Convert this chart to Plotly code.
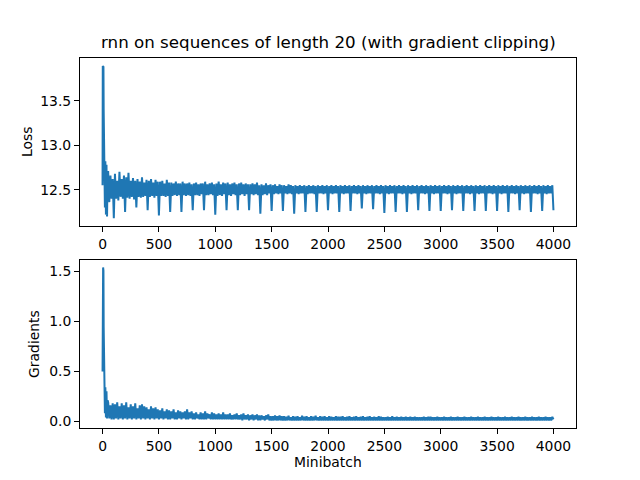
import plotly.graph_objects as go
from plotly.subplots import make_subplots

# ---- data ----
minibatch = [0, 2, 5, 8, 10, 12, 15, 18, 21, 25, 30, 35, 40, 45] + list(range(50, 4001, 10))

loss = [
    12.55, 13.89, 13.86, 13.88, 13.40, 13.05, 12.50, 12.95, 12.30, 12.82, 12.22, 12.78, 12.20, 12.70,
    12.70, 12.36, 12.66, 12.40, 12.62,
    12.18, 12.68, 12.40, 12.60, 12.38, 12.70, 12.42, 12.62, 12.40, 12.66,
    12.25, 12.64, 12.41, 12.69, 12.40, 12.60, 12.42, 12.63, 12.39, 12.60,
    12.30, 12.62, 12.42, 12.59, 12.41, 12.64, 12.42, 12.58, 12.43, 12.61,
    12.27, 12.60, 12.42, 12.62, 12.43, 12.58, 12.41, 12.61, 12.43, 12.59,
    12.21, 12.59, 12.43, 12.60, 12.43, 12.57, 12.42, 12.61, 12.43, 12.58,
    12.25, 12.58, 12.43, 12.57, 12.44, 12.59, 12.43, 12.57, 12.44, 12.57,
    12.25, 12.59, 12.44, 12.57, 12.43, 12.57, 12.44, 12.58, 12.43, 12.56,
    12.27, 12.57, 12.44, 12.58, 12.44, 12.56, 12.43, 12.57, 12.45, 12.57,
    12.27, 12.59, 12.44, 12.56, 12.44, 12.57, 12.45, 12.58, 12.44, 12.56,
    12.22, 12.57, 12.43, 12.59, 12.44, 12.56, 12.43, 12.58, 12.45, 12.57,
    12.27, 12.58, 12.44, 12.56, 12.43, 12.57, 12.45, 12.58, 12.44, 12.56,
    12.27, 12.57, 12.44, 12.58, 12.45, 12.56, 12.43, 12.57, 12.45, 12.56,
    12.27, 12.56, 12.45, 12.57, 12.44, 12.56, 12.45, 12.58, 12.44, 12.55,
    12.23, 12.56, 12.44, 12.55, 12.45, 12.57, 12.44, 12.55, 12.46, 12.56,
    12.26, 12.55, 12.45, 12.56, 12.46, 12.54, 12.45, 12.56, 12.46, 12.55,
    12.26, 12.55, 12.46, 12.54, 12.45, 12.56, 12.46, 12.55, 12.45, 12.54,
    12.23, 12.55, 12.46, 12.54, 12.45, 12.55, 12.46, 12.54, 12.46, 12.55,
    12.25, 12.54, 12.45, 12.55, 12.46, 12.54, 12.46, 12.55, 12.45, 12.54,
    12.25, 12.55, 12.46, 12.54, 12.46, 12.55, 12.45, 12.54, 12.46, 12.55,
    12.27, 12.54, 12.46, 12.55, 12.45, 12.54, 12.46, 12.55, 12.46, 12.54,
    12.25, 12.55, 12.46, 12.54, 12.45, 12.55, 12.46, 12.54, 12.46, 12.55,
    12.26, 12.54, 12.46, 12.55, 12.46, 12.54, 12.45, 12.55, 12.46, 12.54,
    12.29, 12.55, 12.46, 12.54, 12.45, 12.55, 12.46, 12.54, 12.46, 12.55,
    12.28, 12.54, 12.46, 12.55, 12.46, 12.54, 12.45, 12.55, 12.46, 12.54,
    12.24, 12.55, 12.46, 12.54, 12.45, 12.55, 12.46, 12.54, 12.46, 12.55,
    12.25, 12.54, 12.46, 12.55, 12.46, 12.54, 12.45, 12.55, 12.46, 12.54,
    12.25, 12.55, 12.46, 12.54, 12.45, 12.55, 12.46, 12.54, 12.46, 12.55,
    12.27, 12.54, 12.46, 12.55, 12.46, 12.54, 12.45, 12.55, 12.46, 12.54,
    12.26, 12.55, 12.46, 12.54, 12.45, 12.55, 12.46, 12.54, 12.46, 12.55,
    12.26, 12.54, 12.46, 12.55, 12.46, 12.54, 12.45, 12.55, 12.46, 12.54,
    12.27, 12.55, 12.46, 12.54, 12.45, 12.55, 12.46, 12.54, 12.46, 12.55,
    12.26, 12.54, 12.46, 12.55, 12.46, 12.54, 12.45, 12.55, 12.46, 12.54,
    12.26, 12.55, 12.46, 12.54, 12.45, 12.55, 12.46, 12.54, 12.46, 12.55,
    12.26, 12.54, 12.46, 12.55, 12.46, 12.54, 12.45, 12.55, 12.46, 12.54,
    12.26, 12.55, 12.46, 12.54, 12.45, 12.55, 12.46, 12.54, 12.46, 12.55,
    12.25, 12.54, 12.46, 12.55, 12.46, 12.54, 12.45, 12.55, 12.46, 12.54,
    12.27, 12.55, 12.46, 12.54, 12.45, 12.55, 12.46, 12.54, 12.46, 12.55,
    12.25, 12.54, 12.46, 12.55, 12.46, 12.54, 12.45, 12.55, 12.46, 12.54,
    12.26, 12.55, 12.46, 12.54, 12.45, 12.55, 12.46, 12.54, 12.46, 12.55,
    12.27,
]

gradients = [
    0.50, 1.53, 1.54, 1.51, 0.95, 0.62, 0.30, 0.60, 0.08, 0.34, 0.04, 0.30, 0.03, 0.21,
    0.19, 0.03, 0.16, 0.02, 0.18,
    0.02, 0.17, 0.03, 0.19, 0.02, 0.15, 0.03, 0.18, 0.02, 0.16,
    0.03, 0.19, 0.02, 0.14, 0.03, 0.17, 0.02, 0.15, 0.03, 0.18,
    0.02, 0.13, 0.03, 0.16, 0.02, 0.17, 0.03, 0.15, 0.02, 0.14,
    0.03, 0.12, 0.02, 0.15, 0.03, 0.13, 0.02, 0.14, 0.03, 0.12,
    0.02, 0.11, 0.03, 0.13, 0.02, 0.10, 0.03, 0.12, 0.02, 0.11,
    0.02, 0.10, 0.03, 0.12, 0.02, 0.09, 0.02, 0.11, 0.03, 0.10,
    0.02, 0.09, 0.03, 0.10, 0.02, 0.12, 0.02, 0.09, 0.03, 0.10,
    0.02, 0.08, 0.02, 0.09, 0.03, 0.07, 0.02, 0.09, 0.02, 0.08,
    0.02, 0.10, 0.02, 0.08, 0.03, 0.07, 0.02, 0.09, 0.02, 0.08,
    0.02, 0.07, 0.02, 0.08, 0.02, 0.07, 0.02, 0.09, 0.02, 0.07,
    0.02, 0.07, 0.02, 0.08, 0.02, 0.06, 0.02, 0.07, 0.02, 0.08,
    0.02, 0.06, 0.02, 0.07, 0.01, 0.08, 0.02, 0.06, 0.02, 0.07,
    0.01, 0.06, 0.02, 0.07, 0.01, 0.06, 0.02, 0.07, 0.01, 0.06,
    0.01, 0.06, 0.02, 0.05, 0.01, 0.06, 0.02, 0.07, 0.01, 0.05,
    0.01, 0.05, 0.01, 0.06, 0.01, 0.05, 0.01, 0.06, 0.01, 0.05,
    0.01, 0.05, 0.01, 0.045, 0.01, 0.055, 0.01, 0.04, 0.01, 0.05,
    0.01, 0.045, 0.01, 0.05, 0.01, 0.04, 0.01, 0.055, 0.01, 0.045,
    0.01, 0.05, 0.01, 0.04, 0.01, 0.05, 0.01, 0.045, 0.01, 0.055,
    0.01, 0.04, 0.01, 0.05, 0.01, 0.045, 0.01, 0.05, 0.01, 0.04,
    0.01, 0.05, 0.01, 0.045, 0.01, 0.04, 0.01, 0.05, 0.01, 0.045,
    0.01, 0.045, 0.01, 0.05, 0.01, 0.04, 0.01, 0.045, 0.01, 0.05,
    0.01, 0.04, 0.01, 0.045, 0.01, 0.05, 0.01, 0.04, 0.01, 0.045,
    0.01, 0.05, 0.01, 0.04, 0.01, 0.045, 0.01, 0.05, 0.01, 0.04,
    0.01, 0.045, 0.01, 0.04, 0.01, 0.05, 0.01, 0.045, 0.01, 0.04,
    0.01, 0.04, 0.01, 0.045, 0.01, 0.04, 0.01, 0.05, 0.01, 0.04,
    0.01, 0.045, 0.01, 0.04, 0.01, 0.045, 0.01, 0.04, 0.01, 0.045,
    0.01, 0.04, 0.01, 0.045, 0.01, 0.04, 0.01, 0.045, 0.01, 0.04,
    0.01, 0.04, 0.01, 0.04, 0.01, 0.045, 0.01, 0.04, 0.01, 0.045,
    0.01, 0.045, 0.01, 0.04, 0.01, 0.04, 0.01, 0.045, 0.01, 0.04,
    0.01, 0.04, 0.01, 0.045, 0.01, 0.04, 0.01, 0.04, 0.01, 0.045,
    0.01, 0.04, 0.01, 0.04, 0.01, 0.045, 0.01, 0.04, 0.01, 0.04,
    0.01, 0.045, 0.01, 0.04, 0.01, 0.04, 0.01, 0.045, 0.01, 0.04,
    0.01, 0.04, 0.01, 0.045, 0.01, 0.04, 0.01, 0.04, 0.01, 0.045,
    0.01, 0.04, 0.01, 0.04, 0.01, 0.045, 0.01, 0.04, 0.01, 0.04,
    0.01, 0.045, 0.01, 0.04, 0.01, 0.04, 0.01, 0.045, 0.01, 0.04,
    0.01, 0.04, 0.01, 0.045, 0.01, 0.04, 0.01, 0.04, 0.01, 0.045,
    0.01, 0.04, 0.01, 0.04, 0.01, 0.045, 0.01, 0.04, 0.01, 0.04,
    0.01, 0.045, 0.01, 0.04, 0.01, 0.04, 0.01, 0.045, 0.01, 0.04,
    0.01, 0.04, 0.01, 0.045, 0.01, 0.04, 0.01, 0.04, 0.01, 0.045,
    0.02,
]

title_text = "rnn on sequences of length 20 (with gradient clipping)"
x_ticks = [0, 500, 1000, 1500, 2000, 2500, 3000, 3500, 4000]
loss_ticks = [12.5, 13.0, 13.5]
loss_tick_labels = ["12.5", "13.0", "13.5"]
grad_ticks = [0.0, 0.5, 1.0, 1.5]
grad_tick_labels = ["0.0", "0.5", "1.0", "1.5"]

# ---- figure ----
FONT = "DejaVu Sans"
BLUE = "#1f77b4"

fig = make_subplots(rows=2, cols=1, vertical_spacing=0.0909)
fig.add_trace(go.Scatter(x=minibatch, y=loss, mode="lines",
                         line=dict(color=BLUE, width=2)), row=1, col=1)
fig.add_trace(go.Scatter(x=minibatch, y=gradients, mode="lines",
                         line=dict(color=BLUE, width=2)), row=2, col=1)

axis_common = dict(showgrid=False, zeroline=False, showline=True, mirror=True,
                   linecolor="black", linewidth=1, ticks="outside", ticklen=5,
                   tickwidth=1, tickcolor="black",
                   tickfont=dict(family=FONT, size=13.9, color="black"))

fig.update_xaxes(range=[-200, 4200], tickvals=x_ticks,
                 ticktext=[str(v) for v in x_ticks], **axis_common)
fig.update_yaxes(**axis_common)
fig.update_yaxes(range=[12.09, 13.98], tickvals=loss_ticks,
                 ticktext=loss_tick_labels, row=1, col=1)
fig.update_yaxes(range=[-0.0665, 1.6165], tickvals=grad_ticks,
                 ticktext=grad_tick_labels, row=2, col=1)

fig.update_layout(
    width=640, height=480,
    margin=dict(l=80, r=64, t=58, b=52, pad=0),
    plot_bgcolor="white", paper_bgcolor="white",
    showlegend=False,
    font=dict(family=FONT, color="black"),
    annotations=[
        dict(text=title_text, xref="paper", yref="paper", x=0.5, y=1,
             xanchor="center", yanchor="bottom", yshift=4, showarrow=False,
             font=dict(family=FONT, size=16.7, color="black")),
        dict(text="Loss", xref="paper", yref="y domain", x=0, y=0.5,
             xanchor="center", yanchor="middle", xshift=-53, textangle=-90,
             showarrow=False, font=dict(family=FONT, size=13.9, color="black")),
        dict(text="Gradients", xref="paper", yref="y2 domain", x=0, y=0.5,
             xanchor="center", yanchor="middle", xshift=-46, textangle=-90,
             showarrow=False, font=dict(family=FONT, size=13.9, color="black")),
        dict(text="Minibatch", xref="paper", yref="paper", x=0.5, y=0,
             xanchor="center", yanchor="top", yshift=-24, showarrow=False,
             font=dict(family=FONT, size=13.9, color="black")),
    ],
)

fig.write_html("out.html", config={"displayModeBar": False},
               post_script="document.body.style.margin='0';document.body.style.padding='0';")
